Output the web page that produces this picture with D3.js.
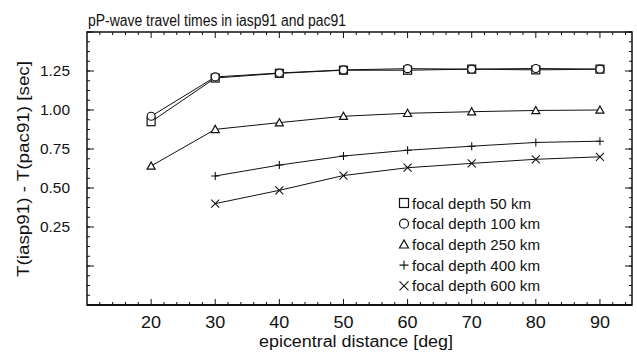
<!DOCTYPE html>
<html>
<head>
<meta charset="utf-8">
<script src="https://cdn.jsdelivr.net/npm/d3@7"></script>
<style>
  body { margin: 0; background: #fff; }
  svg { display: block; }
  text { font-family: "Liberation Sans", Arial, sans-serif; fill: #111; }
</style>
</head>
<body>
<script>
// distances [deg]
var distances = [20, 30, 40, 50, 60, 70, 80, 90];

// T(iasp91) - T(pac91) [sec], one array per focal depth
var depth50  = [0.925, 1.205, 1.235, 1.255, 1.255, 1.262, 1.257, 1.262];
var depth100 = [0.960, 1.212, 1.237, 1.257, 1.265, 1.262, 1.266, 1.262];
var depth250 = [0.641, 0.876, 0.919, 0.960, 0.979, 0.989, 0.997, 1.000];
var depth400 = [null, 0.577, 0.647, 0.705, 0.742, 0.768, 0.792, 0.800];
var depth600 = [null, 0.400, 0.485, 0.580, 0.630, 0.658, 0.684, 0.700];

var xTicks = [20, 30, 40, 50, 60, 70, 80, 90];
var yTicks = [0.25, 0.50, 0.75, 1.00, 1.25];
var legendLabels = ["focal depth 50 km", "focal depth 100 km", "focal depth 250 km",
                    "focal depth 400 km", "focal depth 600 km"];

var width = 637, height = 355;
var plot = {left: 87, right: 632, top: 32, bottom: 305};

var svg = d3.select("body").append("svg")
    .attr("width", width)
    .attr("height", height);

var x = d3.scaleLinear().domain([10, 95]).range([plot.left, plot.right]);
var y = d3.scaleLinear().domain([-0.25, 1.5]).range([plot.bottom, plot.top]);

// squeeze / stretch text to the width seen in the scan
function fit(sel, w) {
  sel.attr("textLength", w).attr("lengthAdjust", "spacingAndGlyphs");
}

// minor / major ticks, all pointing inwards
var xMinor = d3.range(12, 95, 2);
var yMinor = d3.range(-0.25, 1.5001, 0.0625);
var yMajor = d3.range(-0.25, 1.5001, 0.25);

var ticks = svg.append("g").attr("stroke", "#111").attr("stroke-width", 1);

ticks.selectAll(".xb").data(xMinor).enter().append("line")
    .attr("x1", function(d) { return x(d); }).attr("x2", function(d) { return x(d); })
    .attr("y1", plot.bottom)
    .attr("y2", function(d) { return plot.bottom - (d % 10 == 0 ? 6 : 3); });
ticks.selectAll(".xt").data(xMinor).enter().append("line")
    .attr("x1", function(d) { return x(d); }).attr("x2", function(d) { return x(d); })
    .attr("y1", plot.top)
    .attr("y2", function(d) { return plot.top + (d % 10 == 0 ? 6 : 3); });
ticks.selectAll(".yl").data(yMinor).enter().append("line")
    .attr("y1", function(d) { return y(d); }).attr("y2", function(d) { return y(d); })
    .attr("x1", plot.left).attr("x2", plot.left + 3);
ticks.selectAll(".yr").data(yMinor).enter().append("line")
    .attr("y1", function(d) { return y(d); }).attr("y2", function(d) { return y(d); })
    .attr("x1", plot.right).attr("x2", plot.right - 3);
ticks.selectAll(".ylm").data(yMajor).enter().append("line")
    .attr("y1", function(d) { return y(d); }).attr("y2", function(d) { return y(d); })
    .attr("x1", plot.left).attr("x2", plot.left + 7);
ticks.selectAll(".yrm").data(yMajor).enter().append("line")
    .attr("y1", function(d) { return y(d); }).attr("y2", function(d) { return y(d); })
    .attr("x1", plot.right).attr("x2", plot.right - 7);

// frame
svg.append("rect")
    .attr("x", plot.left).attr("y", plot.top)
    .attr("width", plot.right - plot.left)
    .attr("height", plot.bottom - plot.top)
    .attr("fill", "none")
    .attr("stroke", "#111")
    .attr("stroke-width", 1.5);
svg.append("line")
    .attr("x1", plot.left).attr("x2", plot.right)
    .attr("y1", plot.bottom).attr("y2", plot.bottom)
    .attr("stroke", "#111").attr("stroke-width", 2.2);

// x axis labels
svg.append("g").selectAll("text").data(xTicks).enter().append("text")
    .attr("x", function(d) { return x(d); })
    .attr("y", 328)
    .attr("text-anchor", "middle")
    .style("font-size", "16px")
    .text(function(d) { return d; })
    .call(fit, 20);

// y axis labels
svg.append("g").selectAll("text").data(yTicks).enter().append("text")
    .attr("x", 70)
    .attr("y", function(d) { return y(d) + 5; })
    .attr("text-anchor", "end")
    .style("font-size", "14px")
    .text(function(d) { return d.toFixed(2); })
    .call(fit, 30);

// title
svg.append("text")
    .attr("x", 88).attr("y", 26)
    .style("font-size", "16px")
    .text("pP-wave travel times in iasp91 and pac91")
    .call(fit, 258);

// axis titles
svg.append("text")
    .attr("x", 356).attr("y", 347)
    .attr("text-anchor", "middle")
    .style("font-size", "16px")
    .text("epicentral distance [deg]")
    .call(fit, 194);

svg.append("text")
    .attr("transform", "translate(29,169) rotate(-90)")
    .attr("text-anchor", "middle")
    .style("font-size", "16px")
    .text("T(iasp91) - T(pac91) [sec]")
    .call(fit, 216);

// series
var series = [
  {values: depth50,  symbol: "square"},
  {values: depth100, symbol: "circle"},
  {values: depth250, symbol: "triangle"},
  {values: depth400, symbol: "plus"},
  {values: depth600, symbol: "cross"}
];

var line = d3.line()
    .defined(function(d) { return d.v != null; })
    .x(function(d) { return x(d.d); })
    .y(function(d) { return y(d.v); });

function drawSymbol(g, type, cx, cy, s) {
  s = s || 4;
  if (type == "square") {
    g.append("rect").attr("x", cx - s).attr("y", cy - s)
      .attr("width", 2 * s).attr("height", 2 * s)
      .attr("fill", "#fff").attr("stroke", "#111").attr("stroke-width", 1.2);
  } else if (type == "circle") {
    g.append("circle").attr("cx", cx).attr("cy", cy).attr("r", s)
      .attr("fill", "#fff").attr("stroke", "#111").attr("stroke-width", 1.2);
  } else if (type == "triangle") {
    g.append("path")
      .attr("d", "M" + cx + "," + (cy - s) + "L" + (cx + s) + "," + (cy + s * 0.8) +
                 "L" + (cx - s) + "," + (cy + s * 0.8) + "Z")
      .attr("fill", "#fff").attr("stroke", "#111").attr("stroke-width", 1.2);
  } else if (type == "plus") {
    g.append("path")
      .attr("d", "M" + (cx - s) + "," + cy + "H" + (cx + s) + "M" + cx + "," + (cy - s) + "V" + (cy + s))
      .attr("stroke", "#111").attr("stroke-width", 1.1);
  } else {
    g.append("path")
      .attr("d", "M" + (cx - s) + "," + (cy - s) + "L" + (cx + s) + "," + (cy + s) +
                 "M" + (cx - s) + "," + (cy + s) + "L" + (cx + s) + "," + (cy - s))
      .attr("stroke", "#111").attr("stroke-width", 1.1);
  }
}

var marks = svg.append("g");
series.forEach(function(s) {
  var pts = distances.map(function(d, i) { return {d: d, v: s.values[i]}; });
  marks.append("path")
      .datum(pts)
      .attr("fill", "none")
      .attr("stroke", "#111")
      .attr("stroke-width", 1)
      .attr("d", line);
});
series.forEach(function(s) {
  distances.forEach(function(d, i) {
    if (s.values[i] != null) drawSymbol(marks, s.symbol, x(d), y(s.values[i]));
  });
});

// legend
var legend = svg.append("g");
legendLabels.forEach(function(lab, i) {
  var ly = 203 + i * 20.7;
  drawSymbol(legend, series[i].symbol, 404, ly, 4.5);
  legend.append("text")
      .attr("x", 412).attr("y", ly + 5.5)
      .style("font-size", "15px")
      .text(lab)
      .call(fit, i == 0 ? 119 : 128);
});
</script>
</body>
</html>
